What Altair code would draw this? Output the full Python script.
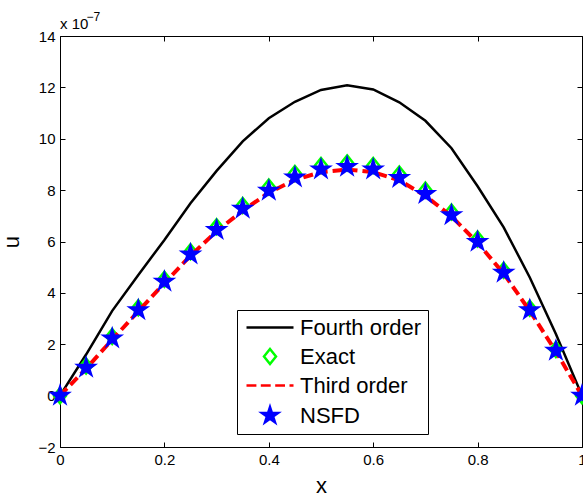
import altair as alt
import pandas as pd

# ---- data (u values in units of 1e-7) ----
x_vals = [0.0, 0.05, 0.1, 0.15, 0.2, 0.25, 0.3, 0.35, 0.4, 0.45, 0.5,
          0.55, 0.6, 0.65, 0.7, 0.75, 0.8, 0.85, 0.9, 0.95, 1.0]
fourth_order = [0.0, 1.6, 3.3, 4.7, 6.06, 7.49, 8.75, 9.9, 10.8, 11.44, 11.9,
                12.08, 11.92, 11.42, 10.7, 9.63, 8.15, 6.55, 4.6, 2.4, 0.0]
exact = [0.0, 1.15, 2.3, 3.42, 4.53, 5.6, 6.57, 7.4, 8.12, 8.65, 8.96,
         9.06, 8.96, 8.63, 8.0, 7.15, 6.1, 4.88, 3.4, 1.8, 0.0]
third_order = [0.0, 1.05, 2.18, 3.28, 4.38, 5.45, 6.4, 7.2, 7.9, 8.4, 8.7,
               8.8, 8.7, 8.38, 7.78, 6.98, 5.95, 4.75, 3.3, 1.72, 0.0]
nsfd = [0.0, 1.09, 2.23, 3.33, 4.44, 5.5, 6.45, 7.28, 7.98, 8.5, 8.81,
        8.91, 8.81, 8.48, 7.85, 7.03, 5.99, 4.79, 3.33, 1.75, 0.0]

series_names = ["Fourth order", "Exact", "Third order", "NSFD"]
x_ticks = [0, 0.2, 0.4, 0.6, 0.8, 1]
y_ticks = [-2, 0, 2, 4, 6, 8, 10, 12, 14]
exponent_base = ["x 10"]
exponent_power = ["\u22127"]


def frame(values, name):
    return pd.DataFrame({"x": x_vals, "u": values, "series": name})


df_fourth = frame(fourth_order, "Fourth order")
df_exact = frame(exact, "Exact")
df_third = frame(third_order, "Third order")
df_nsfd = frame(nsfd, "NSFD")

xs = alt.Scale(domain=[0, 1], nice=False, zero=False)
ys = alt.Scale(domain=[-2, 14], nice=False, zero=False)

# legend / marker symbol styles (unit = 10 px at size 400)
LINE_PATH = "M-2.35,0L2.35,0"
DASH_PATH = "M-2.35,0L-1.36,0M-0.92,0L0.07,0M0.52,0L1.5,0M1.95,0L2.35,0"
DIAMOND_PATH = "M0,-0.75L0.6,0L0,0.75L-0.6,0Z"
STAR_PATH = ("M0,-0.846L0.19,-0.261L0.805,-0.261L0.307,0.1L0.497,0.684"
             "L0,0.323L-0.497,0.684L-0.307,0.1L-0.805,-0.261L-0.19,-0.261Z")

shape_scale = alt.Scale(domain=series_names, range=[LINE_PATH, DIAMOND_PATH, DASH_PATH, STAR_PATH])
fill_scale = alt.Scale(domain=series_names, range=["transparent", "transparent", "transparent", "#0000ff"])
stroke_scale = alt.Scale(domain=series_names, range=["#000000", "#00ff00", "#ff0000", "#0000ff"])

SYM = 400

leg = alt.Legend(title=None, orient="none", legendX=177, legendY=274, padding=6,
                 strokeColor="black", fillColor="white", labelFontSize=22,
                 labelOffset=18.5, symbolOffset=15.5, symbolSize=SYM, symbolStrokeWidth=2.5,
                 rowPadding=5, labelLimit=300, labelColor="black")

x_axis_bottom = alt.Axis(orient="bottom", values=x_ticks, format="~g", offset=-5, tickSize=5,
                         domain=False, grid=False, labelPadding=5, labelFontSize=15,
                         labelFlush=False,
                         title="x", titleFontSize=22, titlePadding=8, titleFontWeight="normal")
y_axis_left = alt.Axis(orient="left", values=y_ticks, format="~g", offset=-5, tickSize=5,
                       domain=False, grid=False, labelPadding=5, labelFontSize=15,
                       labelFlush=False,
                       title="u", titleFontSize=22, titlePadding=14, titleFontWeight="normal")
x_axis_top = alt.Axis(orient="top", values=x_ticks, offset=-5, tickSize=5, domain=False,
                      grid=False, labels=False, title=None)
y_axis_right = alt.Axis(orient="right", values=y_ticks, offset=-5, tickSize=5, domain=False,
                        grid=False, labels=False, title=None)

fourth_line = alt.Chart(df_fourth).mark_line(color="black", strokeWidth=2.5).encode(
    x=alt.X("x:Q", scale=xs, axis=x_axis_bottom),
    y=alt.Y("u:Q", scale=ys, axis=y_axis_left),
)


def points(df):
    return alt.Chart(df).mark_point(filled=True, opacity=1, size=SYM, strokeWidth=2.5).encode(
        x=alt.X("x:Q", scale=xs, axis=None),
        y=alt.Y("u:Q", scale=ys, axis=None),
        shape=alt.Shape("series:N", scale=shape_scale, legend=leg),
        fill=alt.Fill("series:N", scale=fill_scale, legend=leg),
        stroke=alt.Stroke("series:N", scale=stroke_scale, legend=leg),
    )


exact_pts = points(df_exact)
third_line = alt.Chart(df_third).mark_line(color="#ff0000", strokeWidth=4, strokeDash=[10, 5]).encode(
    x=alt.X("x:Q", scale=xs, axis=None),
    y=alt.Y("u:Q", scale=ys, axis=None),
)
nsfd_pts = points(df_nsfd)

tick_layer = alt.Chart(df_fourth).mark_point(opacity=0).encode(
    x=alt.X("x:Q", scale=xs, axis=x_axis_top),
    y=alt.Y("u:Q", scale=ys, axis=y_axis_right),
)

base_text = alt.Chart(pd.DataFrame({"t": exponent_base})).mark_text(
    align="left", baseline="alphabetic", fontSize=15, color="black"
).encode(text="t:N", x=alt.value(0), y=alt.value(-7))
power_text = alt.Chart(pd.DataFrame({"t": exponent_power})).mark_text(
    align="left", baseline="alphabetic", fontSize=12, color="black"
).encode(text="t:N", x=alt.value(26.5), y=alt.value(-15.3))

chart = alt.layer(
    fourth_line, exact_pts, third_line, nsfd_pts, tick_layer, base_text, power_text
).resolve_axis(x="independent", y="independent").properties(
    width=522, height=411,
    autosize=alt.AutoSizeParams(type="none"),
    padding={"left": 60, "top": 36, "right": 1, "bottom": 49},
).configure(font="Liberation Sans").configure_view(
    stroke="black", strokeWidth=1
).configure_axis(
    labelColor="black", tickColor="black", titleColor="black", tickWidth=1
)

chart.save("out.html", embed_options={"renderer": "svg", "actions": False})
